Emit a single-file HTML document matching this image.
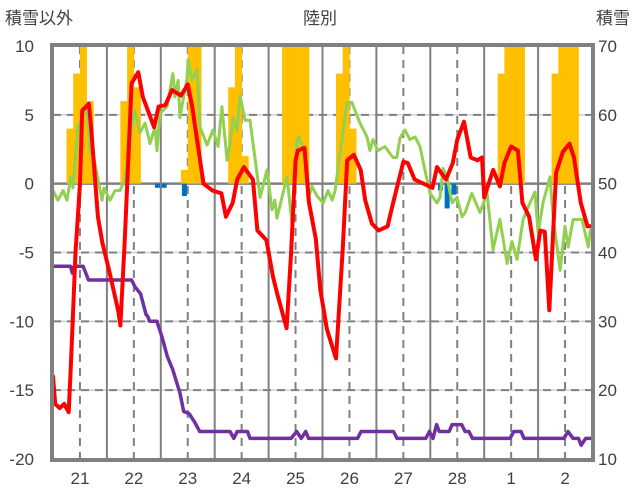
<!DOCTYPE html>
<html><head><meta charset="utf-8"><style>
body{margin:0;background:#fff;}
svg{display:block;font-family:"Liberation Sans","Noto Sans CJK JP",sans-serif;}
</style></head><body>
<svg id="chart" width="636" height="501" viewBox="0 0 636 501" xmlns="http://www.w3.org/2000/svg">
<text x="5" y="24" font-size="17" fill="#404040">積雪以外</text>
<text x="320" y="24" font-size="17" fill="#404040" text-anchor="middle">陸別</text>
<text x="630" y="24" font-size="17" fill="#404040" text-anchor="end">積雪</text>
<g id="grid"></g>
<g id="bars"></g>
<g id="lines"></g>
<g id="axes"></g>
</svg>
<script>
const leftTicks=[10,5,0,-5,-10,-15,-20];
const rightTicks=[70,60,50,40,30,20,10];
const dayLabels=["21","22","23","24","25","26","27","28","1","2"];
// 3-hour bins (80 bins over 10 days)
const snowBars=[0,0,4,8,10,6,0,0,0,0,6,10,7,0,0,0,0,0,0,1,10,10,0,0,0,0,7,10,2,0,0,0,0,0,10,10,10,10,0,0,0,0,8,10,4,0,0,0,0,0,0,0,0,0,0,0,0,0,0,0,0,0,0,0,0,0,8,10,10,10,0,0,0,0,8,10,10,10,0,0];
const blueBars=[0,0,0,0,0,0,0,0,0,0,0,0,0,0,0,-0.3,-0.3,0,0,-0.9,0,0,0,0,0,0,0,0,0,0,0,0,0,0,0,0,0,0,0,0,0,0,0,0,0,0,0,0,0,0,0,0,0,0,0,0,0,-0.5,-1.8,-0.8,0,0,0,0,0,0,0,0,0,0,0,0,0,0,0,0,0,0,0,0];
const redHours=[0,1,3,5,7,8,10,12,13,16,17,20,22,25,29,30,32,35,38,40,45,47,50,53,57,60,62,67,71,75,77,80,82,85,89,91,95,98,100,104,106,108,109,112,114,117,119,122,126,129,131,134,137,139,142,145,149,151,156,158,161,165,169,171,175,178,180,183,186,189,191,192,196,199,201,204,207,209,212,215,217,219,221,224,227,230,232,235,238,240];
const redValues=[-14,-16,-16.3,-16,-16.6,-13,-5,0,5.3,5.8,4,-2.4,-4.3,-6.3,-9.2,-10.3,-3.9,7.3,8.1,6.3,4.1,5.6,5.7,6.8,6.4,7.2,5.6,0,-0.5,-0.7,-2.4,-1.4,0.3,1.2,0.3,-3.4,-4.1,-6.8,-8.1,-10.5,-5,1.7,2.4,2.6,-1.4,-4,-7.7,-10.6,-12.7,-4.8,1.7,2.1,1,-1.2,-2.9,-3.4,-3.1,-1.7,1.6,1.5,0.3,0,-0.3,1.2,0.3,1.5,3.2,4.5,1.9,1.7,1.9,-1,1,-0.2,1.5,2.7,2.4,-1.4,-2.4,-5.5,-3.4,-3.5,-9.2,0.8,2.3,2.9,1.9,-1.4,-3.1,-3.1];
const greenHours=[0,2.2,4.5,6.2,8,8.9,11.1,15.1,16.5,17.8,21.8,22.7,25.4,27.6,29.8,32.1,34.3,36.5,38.7,41,43.2,45.4,46.3,47.6,50.8,53.4,54.3,55.7,56.5,59.7,60.1,61.9,64.1,65.5,68.6,71.2,73.5,75.2,77.5,78.8,80.1,81.9,83.3,85.5,87.7,89.9,92.2,95.3,97.5,98.8,99.7,104.2,106.4,108.6,109.5,112.2,113.5,115.3,117.6,120.3,122.5,124.3,125.6,127.8,130.9,133.1,136.7,139.8,141.1,142.5,144.7,147.8,150,151.4,153.1,154.5,156.7,158.9,161.2,163.4,165.6,167.9,171,172.3,173.7,175.4,177.7,179.9,182.1,183.5,186.5,190.1,193.3,195.9,199,202.2,204.4,206.6,209.3,212.4,214.6,216,218.2,221.3,222.7,225.8,228,229.4,231.6,235.6,238.3,239.2];
const greenValues=[-0.5,-1.2,-0.5,-1.2,0.5,-0.3,4.1,5.6,2.2,2.2,-1.2,-0.3,-1.2,-0.5,-0.5,0.3,3.2,5.3,3.7,4.4,2.9,4.1,2.4,5.1,5.6,8,6.3,7.5,4.8,7.7,9,7.5,8.3,4.1,2.8,3.9,2.7,5.6,1.7,2.9,4.8,3.9,6.4,4.6,4.6,1.9,-1,1,-1.9,-1.2,-2.5,0.5,-2.9,3.2,3.4,2.2,-1.2,-0.2,-0.9,-1.4,-0.5,-1.2,-0.5,2.2,5.9,5.9,4.4,3.4,2.4,3.2,2.4,2.7,2.2,1.9,1.9,3.3,3.9,3.2,3.4,2.7,1,-0.7,-1.4,-1,1.1,0.5,-1.4,-1,-2.4,-2.1,-0.7,-2.1,-0.7,-4.8,-2.6,-5.8,-4.2,-5.5,-2.6,-1.4,-0.6,-3.6,-1.4,0.5,-2.4,-6.3,-3.1,-4.6,-2.6,-2.6,-4.6,-3.4];
const snowDepthHours=[0,7.8,8.6,9.4,13.4,15.8,35,36.5,39,41.4,42.2,43,46.2,48.5,50.9,53.3,56.5,58.2,60.6,63,65.3,78.8,80.5,82,86.6,87.7,106,108.5,110.5,112.5,113.8,135.6,137.2,151.6,153.2,166,167.6,169.2,170.8,172,176.4,177.7,182,183.5,185.2,186.8,203.5,205.2,208.4,209.7,227.5,229.3,231.6,234,235.2,237.2,240];
const snowDepthValues=[38,38,37,38,38,36,36,35,34,31,30.7,30,30,27.8,24.9,23,19.6,16.9,16.6,15.4,14,14,13,14,14,13,13,14,13,14,13,13,14,14,13,13,14,13,15,14,14,15,15,14,14,13,13,14,14,13,13,14,13,13,12,13,13];

const X0=53,X1=592,YT=46,YB=459;
const xH=h=>X0+(X1-X0)*h/240;
const yL=v=>YT+(10-v)*(YB-YT)/30;
const yR=v=>YT+(70-v)*(YB-YT)/60;
const NS="http://www.w3.org/2000/svg";
function mk(tag,parent,attrs){const e=document.createElementNS(NS,tag);for(const k in attrs)e.setAttribute(k,attrs[k]);parent.appendChild(e);return e;}
const grid=document.getElementById('grid'),bars=document.getElementById('bars'),lines=document.getElementById('lines'),axes=document.getElementById('axes');

leftTicks.forEach(v=>{
  if(v===10||v===-20)return;
  if(v===0){const l=mk('line',grid,{x1:X0,x2:X1,y1:yL(v),y2:yL(v),stroke:'#808080','stroke-width':2.5});
    return;}
  const a=mk('line',grid,{x1:X0,x2:X1,y1:yL(v),y2:yL(v),stroke:'#d0d0d0','stroke-width':1.5});
  
  const b=mk('line',grid,{x1:X0,x2:X1,y1:yL(v),y2:yL(v),stroke:'#808080','stroke-width':2,'stroke-dasharray':'8,6'});
  
});
for(let d=1;d<10;d++){
  const l=mk('line',grid,{x1:xH(d*24),x2:xH(d*24),y1:YT,y2:YB,stroke:'#808080','stroke-width':2});
  
}
dayLabels.forEach((lab,i)=>{
  const x=xH(i*24+12);
  const l=mk('line',grid,{x1:x,x2:x,y1:YT,y2:YB,stroke:'#808080','stroke-width':2,'stroke-dasharray':'8,6'});
  
  const t=mk('text',axes,{x:x,y:484,'font-size':17,fill:'#404040','text-anchor':'middle'});t.textContent=lab;
  
});
leftTicks.forEach(v=>{
  const t=mk('text',axes,{x:34,y:yL(v)+6,'font-size':17,fill:'#404040','text-anchor':'end'});t.textContent=v;
  
});
rightTicks.forEach(v=>{
  const t=mk('text',axes,{x:598,y:yR(v)+6,'font-size':17,fill:'#404040'});t.textContent=v;
  
});
snowBars.forEach((v,i)=>{
  if(!v)return;
  const x0=xH(i*3),x1=xH(i*3+3);
  const r=mk('rect',bars,{x:x0,y:yL(v),width:x1-x0+0.3,height:yL(0)-yL(v),fill:'#FFC000'});
  
});
blueBars.forEach((v,i)=>{
  if(!v)return;
  const xc=xH(i*3+1.5);
  const r=mk('rect',bars,{x:xc-2.5,y:yL(0),width:5,height:yL(v)-yL(0),fill:'#0070C0'});
  
});
function poly(hs,vs,yf,color,w,name){
  const pts=hs.map((h,i)=>xH(h).toFixed(1)+','+yf(vs[i]).toFixed(1)).join(' ');
  const p=mk('polyline',lines,{points:pts,fill:'none',stroke:color,'stroke-width':w,'stroke-linejoin':'round','stroke-linecap':'round'});
  
}
poly(greenHours,greenValues,yL,'#92D050',3,'green-series-line');
poly(snowDepthHours,snowDepthValues,yR,'#7030A0',3.5,'snow-depth-line');
poly(redHours,redValues,yL,'#FF0000',4,'temperature-line');
const f=mk('rect',axes,{x:X0-1,y:YT-1,width:X1-X0+2,height:YB-YT+2,fill:'none',stroke:'#808080','stroke-width':4});

</script>
</body></html>
